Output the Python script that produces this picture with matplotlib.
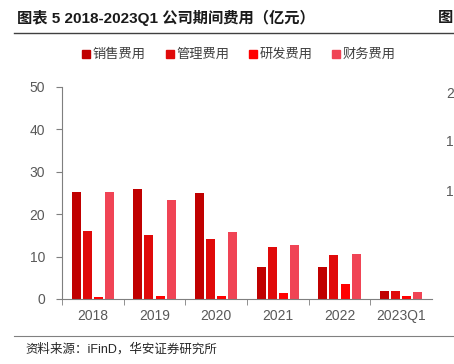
import numpy as np
import matplotlib.pyplot as plt
from matplotlib.lines import Line2D

plt.rcParams['font.family'] = ['Liberation Sans', 'Noto Sans CJK SC', 'DejaVu Sans']

# 期间费用（亿元）
years = ['2018', '2019', '2020', '2021', '2022', '2023Q1']
sales = [25.2, 26.0, 25.0, 7.5, 7.5, 2.0]
admin = [16.0, 15.2, 14.2, 12.2, 10.3, 1.9]
rnd = [0.5, 0.7, 0.8, 1.4, 3.6, 0.7]
finance = [25.2, 23.4, 15.7, 12.8, 10.5, 1.6]
names = ['销售费用', '管理费用', '研发费用', '财务费用']
colors = ['#C00000', '#E00A0A', '#FF0000', '#F04455']

# right axis labels (cut off by the crop in the original)
right_ticks = [48.8, 37.5, 25.7]
right_labels = ['2', '1', '1']

fig = plt.figure(figsize=(4.54, 3.64), dpi=100)
ax = fig.add_axes([62 / 454, 1 - 299 / 364, 370 / 454, 212 / 364])

x = np.arange(len(years))
step = 0.18
width = 0.145
for i, (vals, c) in enumerate(zip([sales, admin, rnd, finance], colors)):
    ax.bar(x + (i - 1.5) * step, vals, width, color=c, label=names[i])

ax.set_xlim(-0.5, len(years) - 0.5)
ax.set_ylim(0, 50)
ax.set_yticks([0, 10, 20, 30, 40, 50])
ax.set_xticks(x)
ax.set_xticklabels(years)
ax.set_xticks(np.arange(len(years)) - 0.5, minor=True)
ax.tick_params(axis='x', which='major', length=0, pad=7, labelsize=10, labelcolor='#595959')
ax.tick_params(axis='x', which='minor', length=4, direction='out', color='#7f7f7f')
ax.tick_params(axis='y', length=4, direction='out', color='#7f7f7f', labelsize=10,
               labelcolor='#595959', pad=8)
for s in ['top', 'right']:
    ax.spines[s].set_visible(False)
ax.spines['left'].set_color('#7f7f7f')
ax.spines['bottom'].set_color('#7f7f7f')

ax2 = ax.twinx()
ax2.set_ylim(0, 50)
ax2.set_yticks(right_ticks)
ax2.set_yticklabels(right_labels)
ax2.tick_params(axis='y', length=0, labelsize=10, labelcolor='#595959', pad=10)
for s in ax2.spines.values():
    s.set_visible(False)

handles = [Line2D([], [], marker='s', ls='', color=c, markersize=6) for c in colors]
fig.legend(handles, names, loc='center', bbox_to_anchor=(0.525, 1 - 55 / 364), ncol=4,
           frameon=False, fontsize=9.5, handletextpad=0.1, columnspacing=1.4,
           handlelength=0.8, labelcolor='#404040')

fig.text(17 / 454, 1 - 18 / 364, '图表 5 2018-2023Q1 公司期间费用（亿元）', fontsize=11,
         fontweight='bold', va='center', ha='left', color='#1a1a1a')
fig.text(438 / 454, 1 - 18 / 364, '图', fontsize=11, fontweight='bold', va='center',
         ha='left', color='#1a1a1a')
fig.add_artist(Line2D([14 / 454, 1], [1 - 33 / 364] * 2, color='#404040', lw=1))
fig.add_artist(Line2D([14 / 454, 1], [1 - 336 / 364] * 2, color='#808080', lw=0.8))
fig.text(25 / 454, 1 - 349 / 364, '资料来源：iFinD，华安证券研究所', fontsize=9,
         va='center', ha='left', color='#262626')

fig.savefig('out.png', dpi=100)
